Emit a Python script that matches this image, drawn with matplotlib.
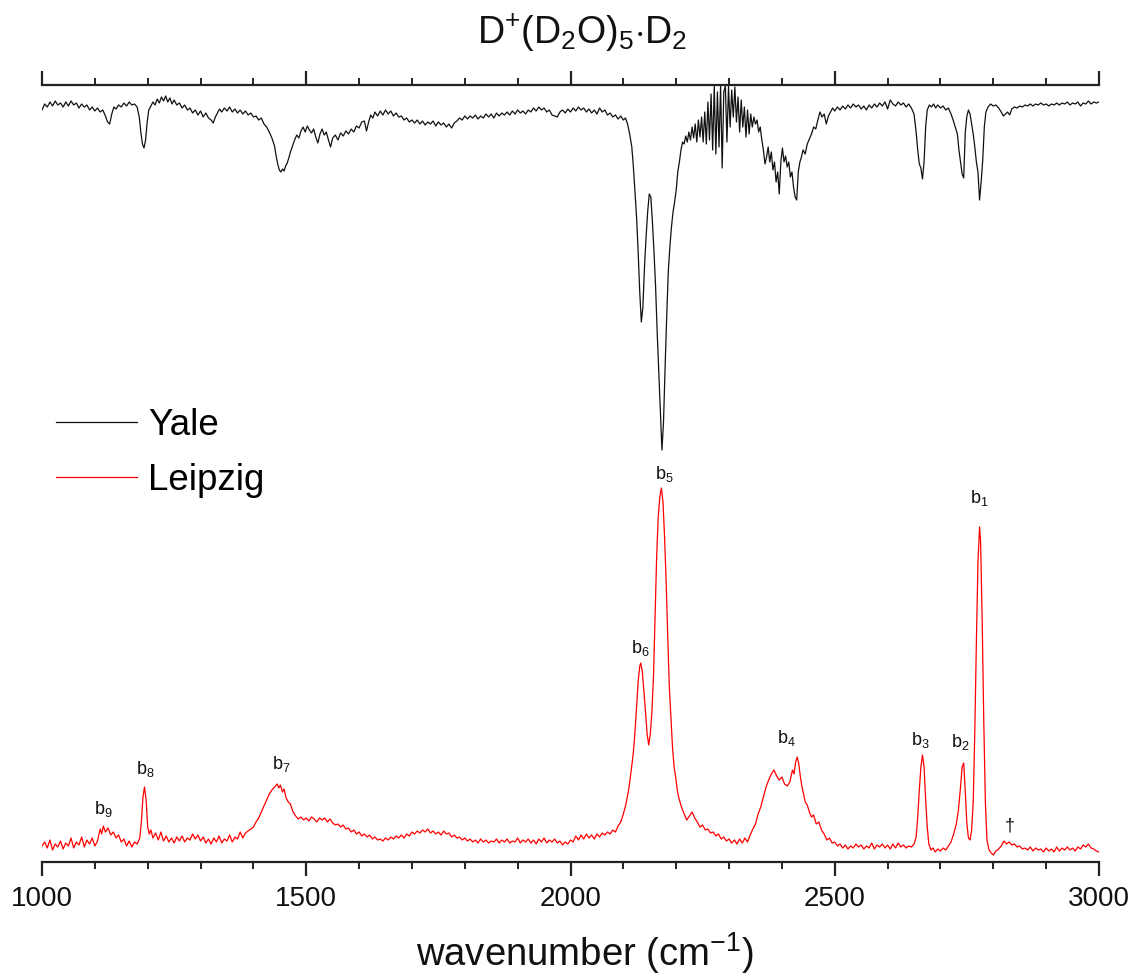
import numpy as np
import matplotlib
matplotlib.use("Agg")
import matplotlib.pyplot as plt

plt.rcParams['font.family'] = ['Liberation Sans', 'DejaVu Sans']
plt.rcParams['mathtext.fontset'] = 'custom'
plt.rcParams['mathtext.rm'] = 'Liberation Sans'
plt.rcParams['mathtext.it'] = 'Liberation Sans:italic'
plt.rcParams['mathtext.bf'] = 'Liberation Sans:bold'

# ---------------- data (wavenumber, intensity in arb. units) ----------------
leipzig_xy = np.array([
    [1000, 16], [1005, 20], [1010, 14], [1015, 22], [1020, 12], [1025, 18], [1030, 15], [1035, 21],
    [1040, 13], [1045, 19], [1050, 16], [1055, 24], [1060, 14], [1065, 20], [1070, 17], [1075, 25],
    [1080, 15], [1085, 22], [1090, 18], [1095, 24], [1100, 16], [1105, 21], [1110, 33], [1113, 28],
    [1116, 36], [1120, 30], [1125, 34], [1130, 27], [1135, 30], [1140, 24], [1145, 27], [1150, 20],
    [1155, 23], [1160, 16], [1165, 21], [1170, 15], [1175, 20], [1180, 18], [1185, 24], [1188, 40],
    [1191, 65], [1194, 75], [1197, 62], [1200, 35], [1203, 28], [1206, 32], [1210, 24], [1215, 29],
    [1220, 22], [1225, 30], [1230, 21], [1235, 26], [1240, 20], [1245, 24], [1250, 19], [1255, 25],
    [1260, 21], [1265, 26], [1270, 20], [1275, 24], [1280, 22], [1285, 28], [1290, 23], [1295, 27],
    [1300, 21], [1305, 25], [1310, 19], [1315, 23], [1320, 18], [1325, 24], [1330, 20], [1335, 26],
    [1340, 19], [1345, 23], [1350, 21], [1355, 27], [1360, 20], [1365, 25], [1370, 23], [1375, 30],
    [1380, 24], [1385, 29], [1390, 31], [1395, 33], [1400, 35], [1405, 40], [1410, 44], [1415, 50],
    [1420, 56], [1425, 62], [1430, 68], [1435, 72], [1440, 75], [1445, 78], [1448, 74], [1451, 77],
    [1455, 70], [1458, 73], [1462, 64], [1466, 60], [1470, 58], [1475, 50], [1480, 46], [1485, 43],
    [1490, 45], [1495, 42], [1500, 44], [1505, 41], [1510, 45], [1515, 43], [1520, 40], [1525, 44],
    [1530, 42], [1535, 44], [1540, 40], [1545, 43], [1550, 39], [1555, 37], [1560, 38], [1565, 35],
    [1570, 37], [1575, 33], [1580, 34], [1585, 30], [1590, 32], [1595, 28], [1600, 30], [1605, 26],
    [1610, 28], [1615, 25], [1620, 27], [1625, 23], [1630, 25], [1635, 22], [1640, 23], [1645, 21],
    [1650, 24], [1655, 22], [1660, 25], [1665, 23], [1670, 26], [1675, 24], [1680, 27], [1685, 24],
    [1690, 28], [1695, 26], [1700, 30], [1705, 28], [1710, 31], [1715, 29], [1720, 32], [1725, 30],
    [1730, 33], [1735, 29], [1740, 31], [1745, 28], [1750, 30], [1755, 27], [1760, 31], [1765, 28],
    [1770, 29], [1775, 25], [1780, 27], [1785, 24], [1790, 25], [1795, 22], [1800, 24], [1805, 21],
    [1810, 23], [1815, 20], [1820, 22], [1825, 19], [1830, 23], [1835, 20], [1840, 22], [1845, 19],
    [1850, 21], [1855, 20], [1860, 23], [1865, 19], [1870, 22], [1875, 20], [1880, 23], [1885, 19],
    [1890, 21], [1895, 20], [1900, 24], [1905, 19], [1910, 22], [1915, 20], [1920, 23], [1925, 19],
    [1930, 22], [1935, 18], [1940, 23], [1945, 20], [1950, 24], [1955, 19], [1960, 22], [1965, 20],
    [1970, 23], [1975, 19], [1980, 21], [1985, 17], [1990, 20], [1995, 18], [2000, 22], [2005, 20],
    [2010, 26], [2015, 22], [2020, 27], [2025, 23], [2030, 28], [2035, 24], [2040, 27], [2045, 23],
    [2050, 28], [2055, 25], [2060, 29], [2065, 27], [2070, 30], [2075, 28], [2080, 32], [2085, 30],
    [2090, 36], [2095, 40], [2100, 48], [2105, 58], [2110, 72], [2115, 92], [2119, 110], [2122, 130],
    [2125, 155], [2128, 180], [2131, 196], [2133, 199], [2136, 190], [2139, 170], [2142, 150],
    [2145, 128], [2148, 117], [2151, 128], [2154, 150], [2157, 185], [2160, 245], [2163, 305],
    [2166, 345], [2169, 365], [2172, 374], [2175, 360], [2178, 325], [2181, 280], [2184, 225],
    [2187, 175], [2190, 145], [2193, 115], [2196, 95], [2199, 85], [2202, 72], [2205, 64], [2210, 55],
    [2215, 48], [2220, 42], [2225, 46], [2230, 50], [2235, 44], [2240, 40], [2245, 35], [2250, 37],
    [2255, 32], [2260, 33], [2265, 29], [2270, 30], [2275, 26], [2280, 28], [2285, 23], [2290, 25],
    [2295, 21], [2300, 23], [2305, 19], [2310, 22], [2315, 18], [2320, 23], [2325, 19], [2330, 24],
    [2335, 20], [2340, 27], [2345, 33], [2350, 38], [2355, 48], [2360, 55], [2365, 65], [2370, 75],
    [2375, 82], [2380, 88], [2385, 92], [2390, 86], [2395, 82], [2400, 85], [2405, 78], [2410, 76],
    [2415, 80], [2420, 92], [2423, 88], [2426, 100], [2429, 105], [2432, 98], [2435, 85], [2438, 75],
    [2441, 68], [2444, 60], [2448, 57], [2452, 50], [2456, 45], [2460, 47], [2465, 38], [2470, 40],
    [2475, 32], [2480, 28], [2485, 22], [2490, 24], [2495, 19], [2500, 20], [2505, 16], [2510, 18],
    [2515, 14], [2520, 17], [2525, 13], [2530, 16], [2535, 14], [2540, 18], [2545, 15], [2550, 17],
    [2555, 13], [2560, 16], [2565, 14], [2570, 19], [2575, 13], [2580, 17], [2585, 15], [2590, 18],
    [2595, 14], [2600, 17], [2605, 13], [2610, 18], [2615, 14], [2620, 19], [2625, 15], [2630, 17],
    [2635, 14], [2640, 16], [2645, 15], [2650, 18], [2654, 25], [2657, 45], [2660, 72], [2663, 95],
    [2666, 107], [2669, 95], [2672, 62], [2675, 35], [2678, 18], [2682, 12], [2686, 14], [2690, 10],
    [2695, 13], [2700, 11], [2705, 14], [2710, 12], [2715, 16], [2720, 20], [2725, 28], [2730, 38],
    [2734, 52], [2738, 75], [2741, 95], [2744, 99], [2747, 70], [2750, 38], [2753, 24], [2756, 22],
    [2759, 32], [2762, 60], [2765, 130], [2768, 220], [2771, 300], [2774, 335], [2776, 320],
    [2779, 240], [2782, 140], [2785, 60], [2788, 22], [2792, 12], [2796, 9], [2800, 7], [2805, 11],
    [2810, 13], [2815, 16], [2820, 21], [2825, 18], [2830, 20], [2835, 17], [2840, 18], [2845, 15],
    [2850, 16], [2855, 13], [2860, 14], [2865, 12], [2870, 15], [2875, 11], [2880, 14], [2885, 12],
    [2890, 13], [2895, 10], [2900, 14], [2905, 11], [2910, 13], [2915, 10], [2920, 15], [2925, 11],
    [2930, 14], [2935, 12], [2940, 15], [2945, 12], [2950, 14], [2955, 11], [2960, 15], [2965, 13],
    [2970, 17], [2975, 15], [2980, 18], [2985, 14], [2990, 13], [2995, 11], [3000, 10],
])

yale_xy = np.array([
    [1000, 752], [1005, 758], [1010, 755], [1015, 760], [1020, 756], [1025, 761], [1030, 757],
    [1035, 759], [1040, 755], [1045, 760], [1050, 756], [1055, 761], [1060, 757], [1065, 759],
    [1070, 754], [1075, 758], [1080, 755], [1085, 757], [1090, 752], [1095, 755], [1100, 751],
    [1105, 754], [1110, 750], [1115, 752], [1120, 746], [1124, 740], [1128, 738], [1132, 748],
    [1136, 755], [1140, 753], [1145, 757], [1150, 755], [1155, 759], [1160, 756], [1165, 760],
    [1170, 757], [1175, 758], [1180, 755], [1184, 745], [1187, 730], [1190, 718], [1193, 714],
    [1196, 722], [1199, 740], [1202, 752], [1206, 756], [1210, 760], [1214, 757], [1218, 763],
    [1222, 759], [1226, 765], [1230, 761], [1234, 766], [1238, 760], [1242, 764], [1246, 758],
    [1250, 762], [1255, 757], [1260, 759], [1265, 754], [1270, 757], [1275, 752], [1280, 754],
    [1285, 749], [1290, 752], [1295, 747], [1300, 751], [1305, 745], [1310, 749], [1315, 744],
    [1320, 742], [1324, 739], [1328, 745], [1332, 749], [1336, 753], [1340, 750], [1345, 754],
    [1350, 751], [1355, 755], [1360, 750], [1365, 753], [1370, 749], [1375, 752], [1380, 748],
    [1385, 751], [1390, 747], [1395, 749], [1400, 745], [1405, 746], [1410, 742], [1415, 744],
    [1420, 738], [1425, 735], [1430, 730], [1435, 724], [1440, 716], [1443, 706], [1446, 698],
    [1449, 692], [1452, 690], [1455, 693], [1458, 691], [1461, 696], [1464, 699], [1467, 704],
    [1470, 710], [1474, 716], [1478, 722], [1482, 727], [1486, 724], [1490, 731], [1494, 735],
    [1498, 730], [1502, 736], [1506, 732], [1510, 729], [1514, 733], [1518, 725], [1522, 719],
    [1526, 728], [1530, 733], [1534, 727], [1538, 730], [1542, 722], [1546, 715], [1550, 724],
    [1555, 727], [1560, 722], [1565, 729], [1570, 726], [1575, 731], [1580, 728], [1585, 733],
    [1590, 730], [1595, 736], [1600, 734], [1605, 740], [1610, 741], [1614, 731], [1618, 740],
    [1622, 747], [1626, 744], [1630, 750], [1635, 746], [1640, 751], [1645, 747], [1650, 752],
    [1655, 748], [1660, 751], [1665, 746], [1670, 749], [1675, 745], [1680, 746], [1685, 742],
    [1690, 744], [1695, 740], [1700, 742], [1705, 739], [1710, 742], [1715, 738], [1720, 741],
    [1725, 737], [1730, 740], [1735, 738], [1740, 741], [1745, 736], [1750, 740], [1755, 737],
    [1760, 739], [1765, 735], [1770, 738], [1775, 734], [1780, 739], [1785, 741], [1790, 744],
    [1795, 742], [1800, 746], [1805, 743], [1810, 746], [1815, 744], [1820, 747], [1825, 743],
    [1830, 746], [1835, 744], [1840, 748], [1845, 745], [1850, 748], [1855, 744], [1860, 749],
    [1865, 746], [1870, 749], [1875, 747], [1880, 750], [1885, 747], [1890, 751], [1895, 748],
    [1900, 752], [1905, 749], [1910, 751], [1915, 748], [1920, 752], [1925, 750], [1930, 754],
    [1935, 751], [1940, 755], [1945, 752], [1950, 754], [1955, 750], [1960, 752], [1965, 747],
    [1970, 746], [1975, 745], [1980, 750], [1985, 752], [1990, 749], [1995, 753], [2000, 750],
    [2005, 754], [2010, 751], [2015, 755], [2020, 752], [2025, 754], [2030, 750], [2035, 753],
    [2040, 749], [2045, 752], [2050, 748], [2055, 754], [2060, 750], [2065, 752], [2070, 747],
    [2075, 749], [2080, 745], [2085, 747], [2090, 743], [2095, 746], [2100, 742], [2104, 744],
    [2108, 738], [2112, 728], [2116, 715], [2119, 695], [2122, 670], [2125, 645], [2128, 610],
    [2131, 570], [2134, 540], [2137, 555], [2140, 595], [2143, 625], [2146, 650], [2149, 668],
    [2152, 665], [2155, 640], [2158, 610], [2161, 575], [2164, 530], [2167, 490], [2170, 450],
    [2173, 412], [2176, 440], [2179, 495], [2182, 545], [2185, 590], [2188, 615], [2191, 635],
    [2194, 650], [2197, 660], [2200, 672], [2203, 690], [2206, 700], [2209, 712], [2212, 720],
    [2215, 718], [2218, 726], [2221, 720], [2224, 730], [2227, 722], [2230, 735], [2233, 724],
    [2236, 738], [2239, 720], [2242, 742], [2245, 725], [2248, 745], [2251, 720], [2254, 750],
    [2257, 718], [2260, 760], [2263, 722], [2266, 768], [2269, 712], [2272, 776], [2275, 708],
    [2278, 770], [2281, 715], [2284, 776], [2287, 694], [2290, 770], [2293, 776], [2296, 720],
    [2299, 776], [2302, 735], [2305, 772], [2308, 745], [2311, 775], [2314, 740], [2317, 765],
    [2320, 730], [2323, 762], [2326, 735], [2329, 755], [2332, 725], [2335, 752], [2338, 728],
    [2341, 748], [2344, 735], [2347, 745], [2350, 738], [2353, 742], [2356, 730], [2359, 735],
    [2362, 722], [2365, 712], [2368, 698], [2371, 705], [2374, 715], [2377, 700], [2380, 710],
    [2383, 692], [2386, 700], [2389, 680], [2392, 690], [2395, 668], [2398, 700], [2401, 714],
    [2404, 700], [2407, 706], [2410, 695], [2413, 700], [2416, 685], [2419, 690], [2422, 675],
    [2425, 665], [2428, 662], [2431, 690], [2434, 700], [2437, 705], [2440, 712], [2444, 708],
    [2448, 718], [2452, 723], [2456, 728], [2460, 735], [2464, 733], [2468, 742], [2472, 750],
    [2476, 745], [2480, 748], [2484, 738], [2488, 746], [2492, 750], [2496, 754], [2500, 751],
    [2505, 755], [2510, 752], [2515, 756], [2520, 753], [2525, 757], [2530, 754], [2535, 758],
    [2540, 755], [2545, 757], [2550, 753], [2555, 756], [2560, 752], [2565, 757], [2570, 754],
    [2575, 758], [2580, 755], [2585, 759], [2590, 756], [2595, 760], [2600, 753], [2605, 762],
    [2610, 758], [2615, 756], [2620, 760], [2625, 757], [2630, 759], [2635, 755], [2640, 758],
    [2645, 754], [2650, 748], [2654, 730], [2657, 712], [2660, 698], [2663, 694], [2666, 683],
    [2669, 700], [2672, 735], [2675, 752], [2679, 757], [2683, 755], [2687, 758], [2691, 754],
    [2695, 757], [2700, 754], [2705, 756], [2710, 752], [2715, 754], [2720, 748], [2724, 742],
    [2728, 735], [2732, 728], [2735, 712], [2738, 700], [2741, 688], [2744, 684], [2747, 730],
    [2750, 746], [2753, 752], [2756, 748], [2759, 738], [2762, 728], [2765, 715], [2768, 700],
    [2771, 690], [2774, 662], [2777, 680], [2780, 702], [2783, 735], [2786, 750], [2790, 755],
    [2795, 758], [2800, 756], [2805, 757], [2810, 754], [2815, 750], [2819, 746], [2823, 748],
    [2827, 750], [2831, 747], [2835, 753], [2840, 755], [2845, 754], [2850, 756], [2855, 755],
    [2860, 757], [2865, 756], [2870, 758], [2875, 756], [2880, 758], [2885, 757], [2890, 759],
    [2895, 757], [2900, 758], [2905, 756], [2910, 758], [2915, 757], [2920, 759], [2925, 757],
    [2930, 759], [2935, 758], [2940, 760], [2945, 757], [2950, 759], [2955, 758], [2960, 760],
    [2965, 756], [2970, 759], [2975, 758], [2980, 761], [2985, 758], [2990, 760], [2995, 759],
    [3000, 760],
])

leipzig_x, leipzig_y = leipzig_xy[:, 0], leipzig_xy[:, 1]
yale_x, yale_y = yale_xy[:, 0], yale_xy[:, 1]

# peak labels: text, x, baseline y
peak_labels = [r'b$_1$', r'b$_2$', r'b$_3$', r'b$_4$', r'b$_5$', r'b$_6$', r'b$_7$', r'b$_8$', r'b$_9$', '\u2020']
peak_label_x = [2773, 2737, 2662, 2408, 2177, 2133, 1452, 1195, 1117, 2832]
peak_label_y = [359, 115, 117, 119, 383, 209, 93, 88, 48, 31]

x_ticks = [1000, 1500, 2000, 2500, 3000]
x_tick_labels = ['1000', '1500', '2000', '2500', '3000']

# ---------------- figure ----------------
fig = plt.figure(figsize=(11.33, 9.76), dpi=100)
ax = fig.add_axes([42 / 1133, 114 / 976, 1057 / 1133, 777 / 976])

ax.plot(yale_x, yale_y, color='#111111', lw=0.9, label='Yale')
ax.plot(leipzig_x, leipzig_y, color='#ff0000', lw=0.9, label='Leipzig')

ax.set_xlim(1000, 3000)
ax.set_ylim(0, 777)

for side in ['left', 'right']:
    ax.spines[side].set_visible(False)
for side in ['top', 'bottom']:
    ax.spines[side].set_linewidth(1.6)
    ax.spines[side].set_color('#222222')

ax.set_yticks([])
ax.set_xticks(x_ticks)
ax.set_xticklabels(x_tick_labels)
ax.set_xticks(np.arange(1000, 3001, 100), minor=True)
ax.tick_params(axis='x', which='major', direction='out', length=10, width=1.6,
               top=True, bottom=True, labeltop=False, labelsize=20, pad=7, colors='#222222',
               labelcolor='#111111')
ax.tick_params(axis='x', which='minor', direction='out', length=5, width=1.4,
               top=True, bottom=True, colors='#222222')

ax.set_xlabel('wavenumber (cm$^{-1}$)', fontsize=27.5, color='#111111')
ax.xaxis.set_label_coords((585 - 42) / 1057, -(953 - 862) / 777)
ax.xaxis.label.set_verticalalignment('center')

for t, x, y in zip(peak_labels, peak_label_x, peak_label_y):
    ax.text(x, y, t, fontsize=13, ha='center', va='baseline', color='#111111')

fig.text(582 / 1133, 1 - 33 / 976, r'D$^{+}$(D$_{2}$O)$_{5}$$\cdot$D$_{2}$', fontsize=27,
         ha='center', va='center', color='#111111')

leg = ax.legend(loc='upper left', bbox_to_anchor=(56 / 1133, 1 - 408 / 976),
                bbox_transform=fig.transFigure, frameon=False, fontsize=26.5,
                handlelength=2.2, handletextpad=0.3, labelspacing=0.55,
                borderpad=0, borderaxespad=0)

fig.savefig('out.png', dpi=100)
